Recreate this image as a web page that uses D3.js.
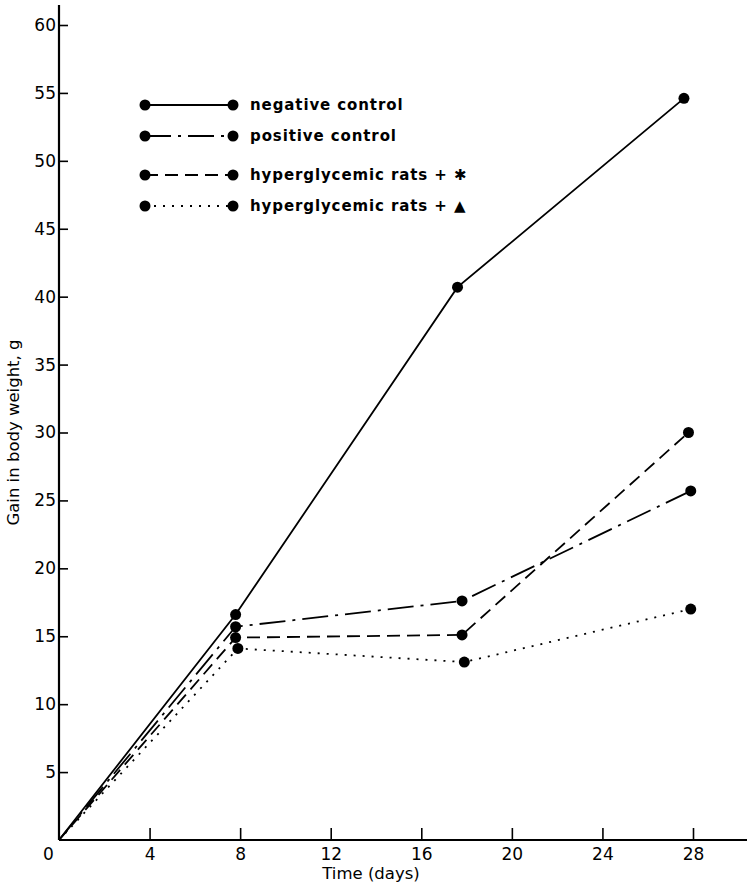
<!DOCTYPE html>
<html>
<head>
<meta charset="utf-8">
<script src="https://cdn.jsdelivr.net/npm/d3@7"></script>
<style>
  body { margin: 0; background: #fff; }
  svg text { font-family: "DejaVu Sans", sans-serif; fill: #000; }
</style>
</head>
<body>
<div id="chart"></div>
<script>
// data
const seriesNames = [
  "negative control",
  "positive control",
  "hyperglycemic rats + \u2731",
  "hyperglycemic rats + \u25B2"
];
const negDays = [0, 7.8, 17.6, 27.6];
const negGain = [0, 16.6, 40.7, 54.6];
const posDays = [0, 7.8, 17.8, 27.9];
const posGain = [0, 15.7, 17.6, 25.7];
const hypStarDays = [0, 7.8, 17.8, 27.8];
const hypStarGain = [0, 14.9, 15.1, 30.0];
const hypTriDays = [0, 7.9, 17.9, 27.9];
const hypTriGain = [0, 14.1, 13.1, 17.0];
const xTicks = [0, 4, 8, 12, 16, 20, 24, 28];
const yTicks = [5, 10, 15, 20, 25, 30, 35, 40, 45, 50, 55, 60];

const dashes = [null, "26,7,3,7", "13,7", "2,7"];

const width = 747, height = 885;
const x0 = 59, y0 = 840;

const x = d3.scaleLinear().domain([0, 28]).range([x0, 693]);
const y = d3.scaleLinear().domain([0, 60]).range([y0, 25]);

const svg = d3.select("#chart").append("svg")
  .attr("width", width)
  .attr("height", height);

const series = [
  [negDays, negGain],
  [posDays, posGain],
  [hypStarDays, hypStarGain],
  [hypTriDays, hypTriGain]
].map(([d, g], i) => ({
  name: seriesNames[i],
  dash: dashes[i],
  values: d.map((v, j) => ({ day: v, gain: g[j] }))
}));

// axes
const xAxis = svg.append("g")
  .attr("transform", `translate(0,${y0})`)
  .call(d3.axisBottom(x).tickValues(xTicks).tickSize(-12).tickPadding(6));
xAxis.select(".domain").attr("d", `M${x0},0H${width}`).attr("stroke-width", 2.2);
xAxis.selectAll(".tick line").attr("stroke-width", 1.6);
xAxis.selectAll(".tick").filter(d => d === 0).select("line").remove();
xAxis.selectAll(".tick text")
  .attr("font-size", 17)
  .attr("dy", "0.85em")
  .attr("dx", d => d === 0 ? -11 : 0);

const yAxis = svg.append("g")
  .attr("transform", `translate(${x0},0)`)
  .call(d3.axisLeft(y).tickValues(yTicks).tickSize(-9).tickPadding(2));
yAxis.select(".domain").attr("d", `M0,5V${y0}`).attr("stroke-width", 2.2);
yAxis.selectAll(".tick line").attr("stroke-width", 1.6);
yAxis.selectAll(".tick text").attr("font-size", 17).attr("x", -3);

svg.append("text")
  .attr("x", x(14) - 5)
  .attr("y", 879)
  .attr("text-anchor", "middle")
  .attr("font-size", 16.5)
  .text("Time (days)");

svg.append("text")
  .attr("transform", `translate(19,${y(30)}) rotate(-90)`)
  .attr("text-anchor", "middle")
  .attr("font-size", 16.5)
  .text("Gain in body weight, g");

// lines
const line = d3.line().x(d => x(d.day)).y(d => y(d.gain));

const g = svg.append("g");
series.forEach(s => {
  g.append("path")
    .datum(s.values)
    .attr("d", line)
    .attr("fill", "none")
    .attr("stroke", "#000")
    .attr("stroke-width", 1.8)
    .attr("stroke-dasharray", s.dash);
  g.selectAll(null)
    .data(s.values.slice(1))
    .join("circle")
    .attr("cx", d => x(d.day))
    .attr("cy", d => y(d.gain))
    .attr("r", 5.5)
    .attr("fill", "#000");
});

// legend
const legendY = [105, 136, 175, 206];
const legend = svg.append("g")
  .selectAll("g")
  .data(series)
  .join("g")
  .attr("transform", (d, i) => `translate(145,${legendY[i]})`);

legend.append("line")
  .attr("x1", 0).attr("x2", 88)
  .attr("stroke", "#000")
  .attr("stroke-width", 1.8)
  .attr("stroke-dasharray", d => d.dash);
legend.selectAll("circle")
  .data([0, 88])
  .join("circle")
  .attr("cx", d => d)
  .attr("r", 5.5)
  .attr("fill", "#000");
legend.append("text")
  .attr("x", 105)
  .attr("dy", "0.32em")
  .attr("font-size", 15)
  .attr("font-weight", "bold")
  .attr("letter-spacing", 0.9)
  .text(d => d.name);
</script>
</body>
</html>
